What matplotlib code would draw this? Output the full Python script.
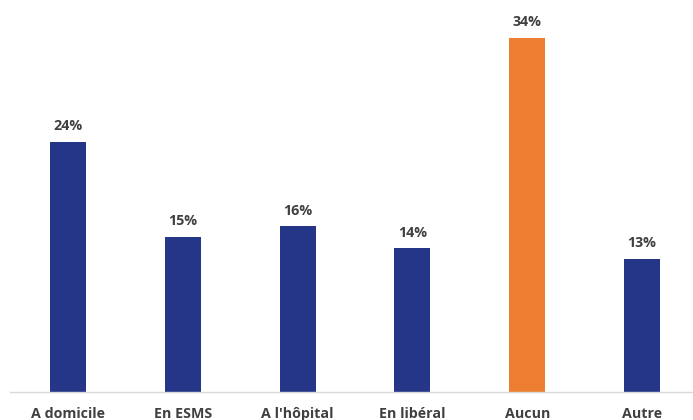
import matplotlib.pyplot as plt

categories = ["A domicile", "En ESMS", "A l'hôpital", "En libéral", "Aucun", "Autre"]
values = [24.0, 14.9, 15.9, 13.8, 34.0, 12.8]
labels = ["24%", "15%", "16%", "14%", "34%", "13%"]
colors = ["#253688", "#253688", "#253688", "#253688", "#ED7D31", "#253688"]

plt.rcParams['font.family'] = ['Open Sans', 'DejaVu Sans']

fig = plt.figure(figsize=(6.93, 4.2), dpi=100)
ax = fig.add_axes([10 / 693, 28 / 420, 683 / 693, 392 / 420])

x = range(len(categories))
bars = ax.bar(x, values, width=0.314, color=colors)

for rect, lab in zip(bars, labels):
    ax.annotate(
        lab,
        (rect.get_x() + rect.get_width() / 2, rect.get_height()),
        xytext=(0, 6),
        textcoords="offset points",
        ha="center",
        va="bottom",
        fontsize=10.3,
        fontweight="bold",
        color="#404040"
    )

ax.set_xlim(-0.505, 5.444)
ax.set_ylim(0, 37.6)

ax.set_xticks(list(x))
ax.set_xticklabels(categories, fontsize=10.3, fontweight="bold", color="#404040")
ax.tick_params(axis="x", length=0, pad=11)
ax.set_yticks([])

for side in ["top", "right", "left"]:
    ax.spines[side].set_visible(False)
ax.spines["bottom"].set_color("#d9d9d9")
ax.spines["bottom"].set_linewidth(1)

fig.savefig("out.png", dpi=100)
